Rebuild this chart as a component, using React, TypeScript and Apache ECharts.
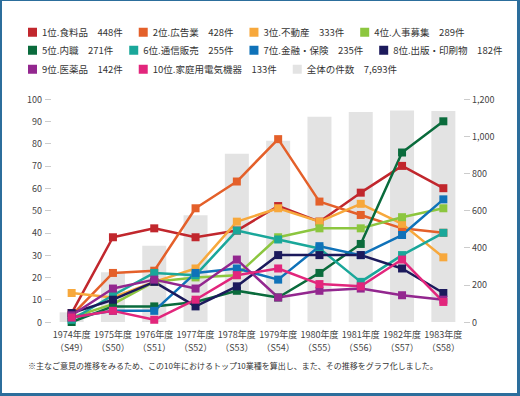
import React, { useEffect, useRef } from "react";
import * as echarts from "echarts";

const years = ["1974年度", "1975年度", "1976年度", "1977年度", "1978年度", "1979年度", "1980年度", "1981年度", "1982年度", "1983年度"];
const showa = ["S49", "S50", "S51", "S52", "S53", "S54", "S55", "S56", "S57", "S58"];

const food = [4, 38, 42, 38, 41, 52, 45, 58, 70, 60];
const advertising = [3, 22, 23, 51, 63, 82, 54, 48, 42, 40];
const realEstate = [13, 11, 18, 24, 45, 51, 45, 53, 44, 29];
const recruitment = [2, 8, 18, 20, 21, 38, 42, 42, 47, 51];
const homework = [0, 7, 7, 9, 14, 11, 22, 35, 76, 90];
const mailOrder = [1, 12, 22, 21, 41, 37, 33, 18, 30, 40];
const finance = [2, 5, 5, 22, 24, 19, 34, 30, 39, 55];
const publishing = [4, 10, 18, 7, 16, 30, 30, 30, 24, 13];
const medicine = [3, 15, 19, 15, 28, 11, 14, 15, 12, 10];
const appliances = [2, 5, 1, 10, 21, 24, 17, 16, 28, 9];
const totals = [52, 268, 410, 575, 905, 975, 1105, 1130, 1138, 1135];

const seriesNames = ["1位.食料品", "2位.広告業", "3位.不動産", "4位.人事募集", "5位.内職", "6位.通信販売", "7位.金融・保険", "8位.出版・印刷物", "9位.医薬品", "10位.家庭用電気機器"];
const seriesCounts = ["448件", "428件", "333件", "289件", "271件", "255件", "235件", "182件", "142件", "133件"];
const seriesColors = ["#c1272d", "#e4602a", "#f7a83c", "#8cc63f", "#0a6b3c", "#1aa79a", "#0f72b9", "#1c1a5c", "#93278f", "#e2267c"];
const seriesData = [food, advertising, realEstate, recruitment, homework, mailOrder, finance, publishing, medicine, appliances];
const totalName = "全体の件数";
const totalCount = "7,693件";

const leftTicks = { min: 0, max: 100, interval: 10 };
const rightTicks = { min: 0, max: 1200, interval: 200 };

const FONT = "'Noto Sans CJK JP', 'Noto Sans', sans-serif";

export default function App() {
  const ref = useRef<HTMLDivElement>(null);

  useEffect(() => {
    if (!ref.current) return;
    const chart = echarts.init(ref.current, null, { renderer: "svg" });
    const countMap: Record<string, string> = {};
    seriesNames.forEach((n, i) => (countMap[n] = seriesCounts[i]));
    countMap[totalName] = totalCount;
    const fmt = (name: string) => `${name}　${countMap[name]}`;

    const legendBase = {
      icon: "rect",
      orient: "horizontal",
      itemWidth: 9,
      itemHeight: 9,
      itemGap: 16,
      left: 28,
      width: 490,
      padding: 0,
      textStyle: { fontSize: 9.5, color: "#333", fontFamily: FONT },
      formatter: fmt,
      selectedMode: false,
    };

    const lineSeries = seriesNames.map((name, i) => ({
      name,
      type: "line",
      yAxisIndex: 0,
      data: seriesData[i],
      symbol: "rect",
      symbolSize: 8,
      color: seriesColors[i],
      lineStyle: { width: 2.5, color: seriesColors[i] },
      itemStyle: { color: seriesColors[i] },
      z: 3,
    }));

    chart.setOption({
      animation: false,
      backgroundColor: "#fff",
      textStyle: { fontFamily: FONT },
      legend: [
        { ...legendBase, top: 27.5, data: seriesNames.slice(0, 4) },
        { ...legendBase, top: 45.5, data: seriesNames.slice(4, 8) },
        { ...legendBase, top: 64.5, data: [...seriesNames.slice(8, 10), totalName] },
      ],
      grid: { left: 51, right: 56, top: 99, bottom: 74 },
      xAxis: {
        type: "category",
        data: years.map((y, i) => `${y}\n（${showa[i]}）`),
        axisLine: { show: false },
        axisTick: { show: false },
        axisLabel: { fontSize: 9, color: "#444", lineHeight: 13, margin: 6, fontFamily: FONT, interval: 0 },
      },
      yAxis: [
        {
          type: "value",
          position: "left",
          ...leftTicks,
          splitLine: { show: false },
          axisLine: { show: false },
          axisTick: { show: true, length: 6, lineStyle: { color: "#ccc" } },
          axisLabel: { fontSize: 9, color: "#444", margin: 9, fontFamily: FONT },
        },
        {
          type: "value",
          position: "right",
          ...rightTicks,
          splitLine: { show: false },
          axisLine: { show: false },
          axisTick: { show: true, length: 6, lineStyle: { color: "#ccc" } },
          axisLabel: {
            fontSize: 9,
            color: "#444",
            margin: 8,
            fontFamily: FONT,
            formatter: (v: number) => v.toLocaleString("en-US"),
          },
        },
      ],
      series: [
        {
          name: totalName,
          type: "bar",
          yAxisIndex: 1,
          data: totals,
          barWidth: 24,
          itemStyle: { color: "#e3e3e3" },
          color: "#d4d4d4",
          z: 1,
        },
        ...lineSeries,
      ],
      graphic: [
        {
          type: "text",
          left: 28,
          top: 361,
          style: {
            text: "※主なご意見の推移をみるため、この10年におけるトップ10業種を算出し、また、その推移をグラフ化しました。",
            fontSize: 8,
            fill: "#333",
            fontFamily: FONT,
          },
        },
      ],
    });
    return () => chart.dispose();
  }, []);

  return (
    <div style={{ position: "fixed", left: 0, top: 0, width: 520, height: 396 }}>
      <div ref={ref} style={{ position: "absolute", left: 0, top: 0, width: 520, height: 396 }} />
      <div
        style={{
          position: "absolute",
          left: 0,
          top: 0,
          width: 520,
          height: 396,
          boxSizing: "border-box",
          borderTop: "1px solid #2c6e9c",
          borderLeft: "2px solid #2c6e9c",
          borderRight: "3px solid #2c6e9c",
          borderBottom: "3px solid #2c6e9c",
          pointerEvents: "none",
        }}
      />
    </div>
  );
}
